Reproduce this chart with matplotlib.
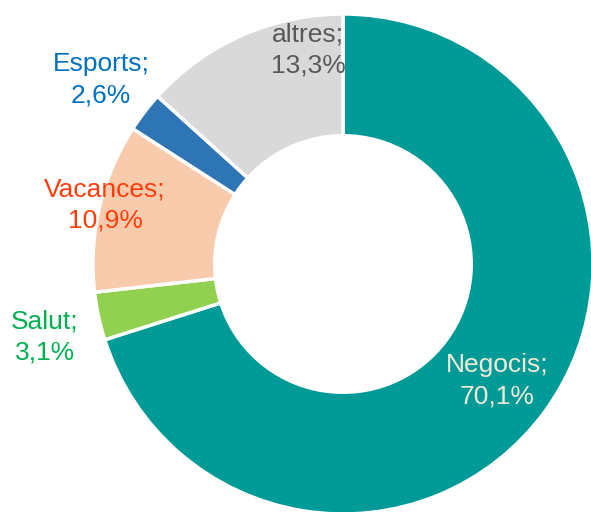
import matplotlib
matplotlib.use("Agg")
import matplotlib.pyplot as plt

categories = ["Negocis", "Salut", "Vacances", "Esports", "altres"]
values = [70.1, 3.1, 10.9, 2.6, 13.3]
value_labels = ["70,1%", "3,1%", "10,9%", "2,6%", "13,3%"]

slice_colors = ["#009A97", "#92D050", "#F8CBAD", "#2E75B6", "#D9D9D9"]
text_colors = ["#F2EAD9", "#00B050", "#FF3D0A", "#0070C0", "#595959"]
# label block centres in pixel coordinates (x, y from top)
label_pos = [(497, 381), (45, 337), (105, 205), (101, 80), (308, 50)]

W, H = 591, 512
fig = plt.figure(figsize=(W / 100, H / 100), dpi=100)
ax = fig.add_axes([0, 0, 1, 1])

cx, cy, R = 343, H - 264, 250
ax.pie(values, colors=slice_colors, startangle=90, counterclock=False,
       center=(cx, cy), radius=R,
       wedgeprops=dict(width=R * 0.487, edgecolor="white", linewidth=2.5))
ax.set_xlim(0, W)
ax.set_ylim(0, H)
ax.set_aspect("equal")
ax.axis("off")

for cat, vl, col, (px, py) in zip(categories, value_labels, text_colors, label_pos):
    ax.text(px, H - py, f"{cat};\n{vl}", ha="center", va="center",
            fontsize=19, color=col, family="Liberation Sans",
            linespacing=1.42)

fig.savefig("out.png", dpi=100)
